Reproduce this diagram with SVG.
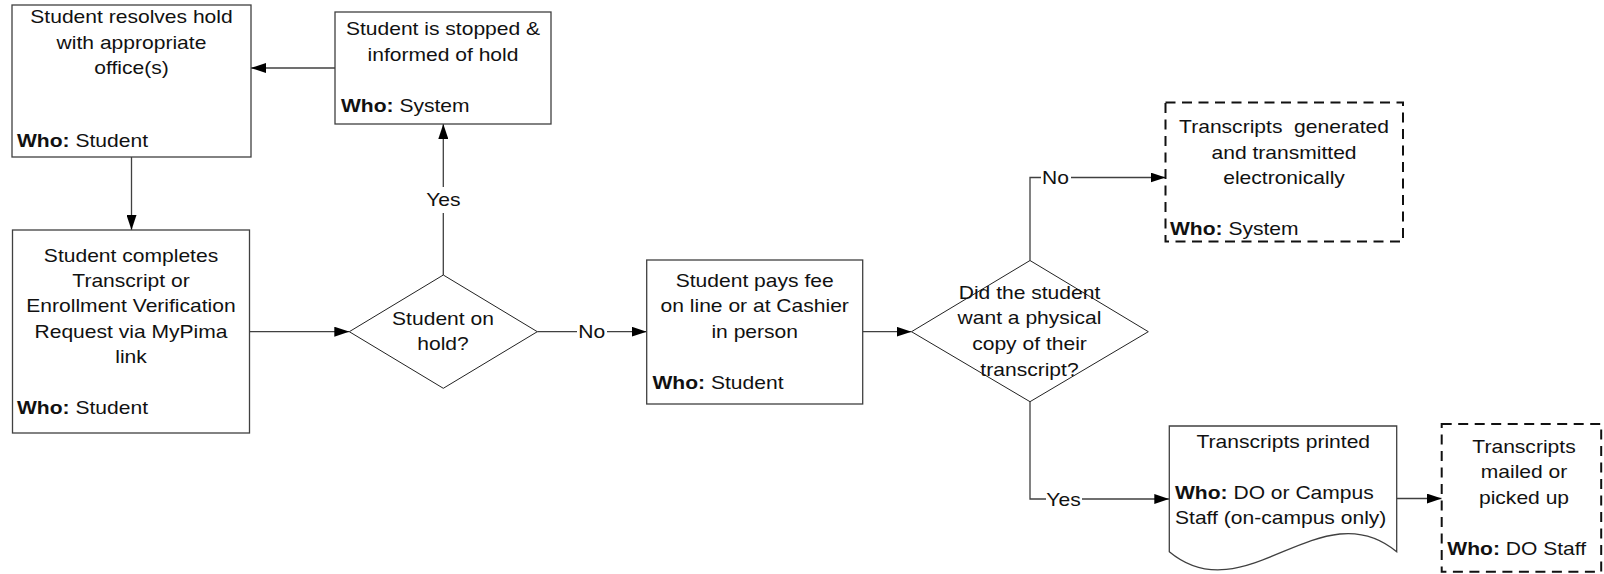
<svg xmlns="http://www.w3.org/2000/svg" width="1604" height="574" viewBox="0 0 1604 574">
<style>
  text { font-family: "Liberation Sans", Arial, sans-serif; font-size: 18px; fill: #111; }
  .c { text-anchor: middle; }
  .b { font-weight: bold; }
  .box { fill: #fff; stroke: #404040; stroke-width: 1.3; }
  .dash { fill: #fff; stroke: #111; stroke-width: 2; stroke-dasharray: 10 6.5; }
  .dia { fill: #fff; stroke: #222; stroke-width: 1; }
  .conn { fill: none; stroke: #404040; stroke-width: 1.3; marker-end: url(#arr); }
  .lblbg { fill: #fff; stroke: none; }
</style>
<defs>
  <marker id="arr" markerUnits="userSpaceOnUse" markerWidth="15" markerHeight="10" refX="15" refY="5" orient="auto">
    <path d="M0,0 L15,5 L0,10 Z" fill="#000"/>
  </marker>
</defs>
<rect width="1604" height="574" fill="#fff"/>

<g id="connectors">
  <path class="conn" d="M335,68 H251"/>
  <path class="conn" d="M131.5,157 V230"/>
  <path class="conn" d="M249.5,331.7 H349.3"/>
  <path class="conn" d="M443.3,275 V124"/>
  <path class="conn" d="M537.3,331.7 H646.7"/>
  <path class="conn" d="M862.7,331.7 H911.5"/>
  <path class="conn" d="M1030,260.5 V177.5 H1165.5"/>
  <path class="conn" d="M1030,401.7 V499 H1169.3"/>
  <path class="conn" d="M1396.7,498.5 H1441.7"/>
  <g id="labels">
    <rect class="lblbg" x="428" y="187" width="31" height="26"/>
    <text class="c" transform="translate(443.3,206) scale(1.17,1)">Yes</text>
    <rect class="lblbg" x="577" y="322" width="30" height="20"/>
    <text class="c" transform="translate(591.7,338.3) scale(1.17,1)">No</text>
    <rect class="lblbg" x="1041" y="168" width="30" height="20"/>
    <text class="c" transform="translate(1055.5,184) scale(1.17,1)">No</text>
    <rect class="lblbg" x="1046" y="489" width="36" height="20"/>
    <text class="c" transform="translate(1063.5,505.5) scale(1.17,1)">Yes</text>
  </g>
</g>

<g id="resolve-hold">
  <rect class="box" x="12" y="5" width="239" height="152"/>
  <text class="c" transform="translate(131.5,23.3) scale(1.17,1)"><tspan x="0">Student resolves hold</tspan><tspan x="0" dy="25.4">with appropriate</tspan><tspan x="0" dy="25.4">office(s)</tspan></text>
  <text transform="translate(17,146.7) scale(1.17,1)"><tspan class="b">Who:</tspan> Student</text>
</g>

<g id="stopped">
  <rect class="box" x="335" y="12" width="216" height="112"/>
  <text class="c" transform="translate(443,35.3) scale(1.17,1)"><tspan x="0">Student is stopped &amp;</tspan><tspan x="0" dy="25.8">informed of hold</tspan></text>
  <text transform="translate(341,112.3) scale(1.17,1)"><tspan class="b">Who:</tspan> System</text>
</g>

<g id="request">
  <rect class="box" x="12.5" y="230" width="237" height="203"/>
  <text class="c" transform="translate(131,261.7) scale(1.17,1)"><tspan x="0">Student completes</tspan><tspan x="0" dy="25.3">Transcript or</tspan><tspan x="0" dy="25.3">Enrollment Verification</tspan><tspan x="0" dy="25.3">Request via MyPima</tspan><tspan x="0" dy="25.3">link</tspan></text>
  <text transform="translate(17,414.3) scale(1.17,1)"><tspan class="b">Who:</tspan> Student</text>
</g>

<g id="on-hold">
  <polygon class="dia" points="349.3,331.7 443.3,275 537.3,331.7 443.3,388.3"/>
  <text class="c" transform="translate(443,325) scale(1.17,1)"><tspan x="0">Student on</tspan><tspan x="0" dy="25.3">hold?</tspan></text>
</g>

<g id="pays-fee">
  <rect class="box" x="646.7" y="260" width="216" height="144"/>
  <text class="c" transform="translate(754.7,286.7) scale(1.17,1)"><tspan x="0">Student pays fee</tspan><tspan x="0" dy="25.8">on line or at Cashier</tspan><tspan x="0" dy="25.8">in person</tspan></text>
  <text transform="translate(652.5,389) scale(1.17,1)"><tspan class="b">Who:</tspan> Student</text>
</g>

<g id="physical-copy">
  <polygon class="dia" points="911.5,331.7 1030,260.5 1148.3,331.7 1030,401.7"/>
  <text class="c" transform="translate(1029.5,298.5) scale(1.17,1)"><tspan x="0">Did the student</tspan><tspan x="0" dy="25.7">want a physical</tspan><tspan x="0" dy="25.7">copy of their</tspan><tspan x="0" dy="25.7">transcript?</tspan></text>
</g>

<g id="electronic">
  <rect class="dash" x="1165.5" y="102.5" width="237.5" height="139"/>
  <text class="c" style="white-space:pre" transform="translate(1284,133.3) scale(1.17,1)"><tspan x="0">Transcripts  generated</tspan><tspan x="0" dy="25.3">and transmitted</tspan><tspan x="0" dy="25.3">electronically</tspan></text>
  <text transform="translate(1170,234.5) scale(1.17,1)"><tspan class="b">Who:</tspan> System</text>
</g>

<g id="printed">
  <path class="box" d="M1169.3,426 H1396.7 V551.7 C1320.9,488.7 1245.1,614.7 1169.3,551.7 Z"/>
  <text class="c" transform="translate(1283.3,447.7) scale(1.17,1)">Transcripts printed</text>
  <text transform="translate(1175,498.5) scale(1.17,1)"><tspan x="0"><tspan class="b">Who:</tspan> DO or Campus</tspan><tspan x="0" dy="25.3">Staff (on-campus only)</tspan></text>
</g>

<g id="mailed">
  <rect class="dash" x="1441.7" y="424" width="159.5" height="147.7"/>
  <text class="c" transform="translate(1524,453.3) scale(1.17,1)"><tspan x="0">Transcripts</tspan><tspan x="0" dy="25.2">mailed or</tspan><tspan x="0" dy="25.2">picked up</tspan></text>
  <text transform="translate(1447.3,555) scale(1.17,1)"><tspan class="b">Who:</tspan> DO Staff</text>
</g>
</svg>
